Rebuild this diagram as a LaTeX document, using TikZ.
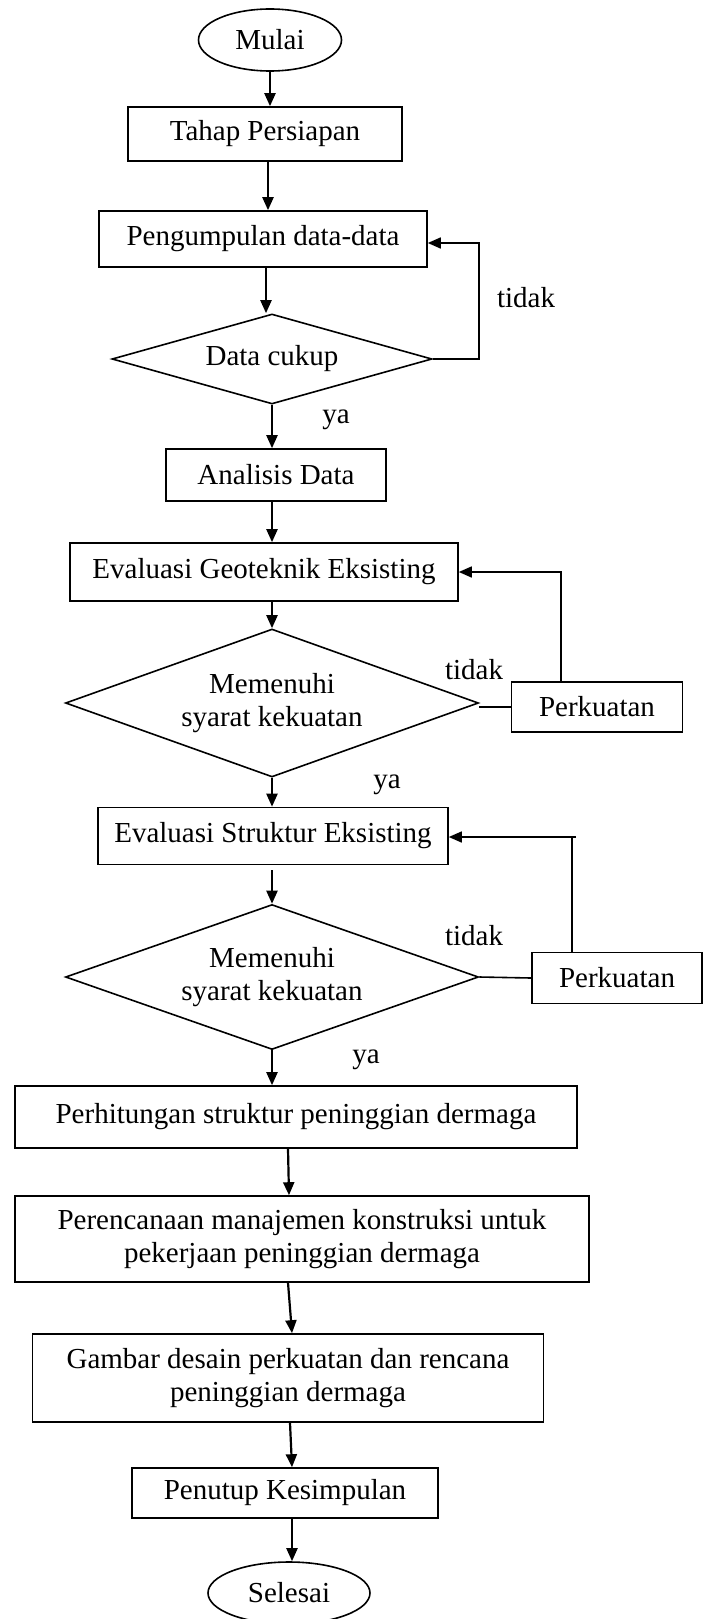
\documentclass[tikz,border=0pt]{standalone}
\usepackage{fontspec}
\setmainfont{Liberation Serif}
\usetikzlibrary{shapes.geometric,arrows.meta}
\begin{document}
\begin{tikzpicture}[x=1pt,y=-1pt,
  txt/.style={font=\fontsize{29}{33}\selectfont},
  proc/.style={txt,draw,line width=1.6pt,inner sep=0pt,align=center},
  term/.style={txt,draw,ellipse,line width=1.6pt,inner sep=0pt},
  dec/.style={txt,draw,diamond,line width=1.6pt,inner sep=0pt,align=center},
  arr/.style={line width=2.2pt,-{Triangle[length=13pt,width=11pt]}},
  ln/.style={line width=1.6pt},
  lnarr/.style={line width=1.6pt,-{Triangle[length=13pt,width=11pt]}},
  lbl/.style={txt,inner sep=0pt}]
\useasboundingbox[fill=white] (0,0) rectangle (708,1619);

\node[term,minimum width=143pt,minimum height=62pt] (mulai) at (270,40) {Mulai};
\node[proc,minimum width=274pt,minimum height=54pt] (tahap) at (265,134) {Tahap Persiapan};
\node[proc,minimum width=328pt,minimum height=56pt] (peng) at (263,239) {Pengumpulan data-data};
\node[dec,aspect=3.55,minimum width=320pt,minimum height=90pt] (dc) at (272,359) {Data cukup};
\node[proc,minimum width=220pt,minimum height=52pt] (anal) at (276,475) {Analisis Data};
\node[proc,minimum width=388pt,minimum height=58pt] (evgeo) at (264,572) {Evaluasi Geoteknik Eksisting};
\node[dec,aspect=2.8,minimum width=413pt,minimum height=148pt] (m1) at (272,703) {Memenuhi\\syarat kekuatan};
\node[proc,minimum width=171pt,minimum height=50pt] (pk1) at (597,707) {Perkuatan};
\node[proc,minimum width=350pt,minimum height=57pt] (evstr) at (273,836) {Evaluasi Struktur Eksisting};
\node[dec,aspect=2.8,minimum width=413pt,minimum height=145pt] (m2) at (272,977) {Memenuhi\\syarat kekuatan};
\node[proc,minimum width=170pt,minimum height=51pt] (pk2) at (617,978) {Perkuatan};
\node[proc,minimum width=562pt,minimum height=62pt] (perh) at (296,1117) {Perhitungan struktur peninggian dermaga};
\node[proc,minimum width=574pt,minimum height=86pt] (peren) at (302,1239) {Perencanaan manajemen konstruksi untuk\\pekerjaan peninggian dermaga};
\node[proc,minimum width=511pt,minimum height=88pt] (gamb) at (288,1378) {Gambar desain perkuatan dan rencana\\peninggian dermaga};
\node[proc,minimum width=306pt,minimum height=50pt] (pen) at (285,1493) {Penutup Kesimpulan};
\node[term,minimum width=162pt,minimum height=62pt] (sel) at (289,1593) {Selesai};

\node[lbl] (t1) at (526,298) {tidak};
\node[lbl] (y1) at (336,420) {ya};
\node[lbl] (t2) at (474,670) {tidak};
\node[lbl] (y2) at (387,785) {ya};
\node[lbl] (t3) at (474,936) {tidak};
\node[lbl] (y3) at (366,1060) {ya};

% main flow
\draw[arr] (mulai) -- (mulai |- tahap.north);
\draw[arr] ([xshift=3pt]tahap.south) -- ([xshift=3pt]tahap.south |- peng.north);
\draw[arr] ([xshift=3pt]peng.south) -- ([xshift=3pt]peng.south |- dc.north);
\draw[arr] (dc.south) -- (dc.south |- anal.north);
\draw[arr] ([xshift=-4pt]anal.south) -- ([xshift=-4pt]anal.south |- evgeo.north);
\draw[arr] (m1.north |- evgeo.south) -- (m1.north);
\draw[arr] (m1.south) -- (m1.south |- evstr.north);
\draw[arr] ([yshift=-5pt]evstr.south -| m2.north) -- (m2.north);
\draw[arr] (m2.south) -- (m2.south |- perh.north);
\draw[arr] ([xshift=-8pt]perh.south) -- ([xshift=-13pt]peren.north);
\draw[arr] ([xshift=-14pt]peren.south) -- ([xshift=4pt]gamb.north);
\draw[arr] ([xshift=2pt]gamb.south) -- ([xshift=7pt]pen.north);
\draw[arr] ([xshift=7pt]pen.south) -- ([xshift=7pt]pen.south |- sel.north);

% loop 1
\coordinate (l1) at (479,243);
\draw[lnarr] (dc.east) -| (l1) -- (l1 -| peng.east);

% loop 2
\draw[ln] (pk1.west) -- (pk1.west -| m1.east);
\draw[lnarr] ([xshift=-36pt]pk1.north) |- (evgeo.east);

% loop 3
\coordinate (c3) at (576,837);
\draw[ln] (pk2.west) -- (m2.east);
\draw[ln] ([xshift=-45pt]pk2.north) -- ([xshift=-45pt]pk2.north |- c3);
\draw[lnarr] (c3) -- (c3 -| evstr.east);
\end{tikzpicture}
\end{document}
